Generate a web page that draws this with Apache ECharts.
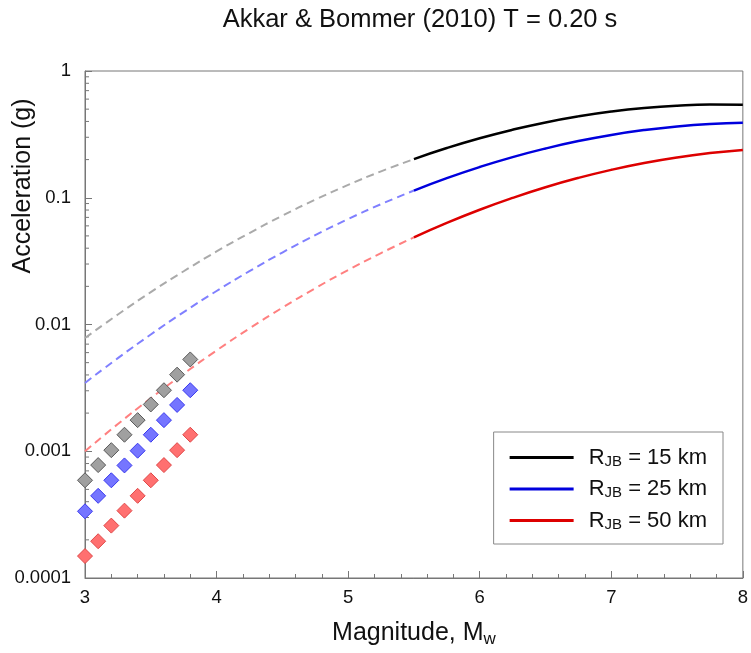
<!DOCTYPE html>
<html>
<head>
<meta charset="utf-8">
<script src="https://cdn.jsdelivr.net/npm/echarts@6/dist/echarts.min.js"></script>
<style>html,body{margin:0;padding:0;background:#fff}#c{width:751px;height:653px}</style>
</head>
<body>
<div id="c"></div>
<script>
// Magnitudes
var mDashed = [3.0, 3.25, 3.5, 3.75, 4.0, 4.25, 4.5, 4.75, 5.0, 5.25, 5.5];
var mSolid = [5.5, 5.75, 6.0, 6.25, 6.5, 6.75, 7.0, 7.25, 7.5, 7.75, 8.0];
var mPoints = [3.0, 3.1, 3.2, 3.3, 3.4, 3.5, 3.6, 3.7, 3.8];

// R_JB = 15 km
var r15Dashed = [0.00782, 0.0120, 0.0180, 0.0263, 0.0377, 0.0527, 0.0722, 0.0966, 0.1263, 0.1615, 0.2018];
var r15Solid = [0.2018, 0.2466, 0.2946, 0.344, 0.393, 0.4386, 0.4787, 0.5108, 0.5327, 0.5433, 0.542];
var r15Points = [0.00059, 0.000778, 0.00102, 0.00135, 0.00176, 0.00234, 0.00303, 0.00402, 0.0053];

// R_JB = 25 km
var r25Dashed = [0.00346, 0.00543, 0.00834, 0.01253, 0.01838, 0.02636, 0.03697, 0.0507, 0.0679, 0.0890, 0.1140];
var r25Solid = [0.1140, 0.1428, 0.1748, 0.2092, 0.2446, 0.2799, 0.3130, 0.3421, 0.3656, 0.3819, 0.390];
var r25Points = [0.000336, 0.000445, 0.00059, 0.000773, 0.00101, 0.00135, 0.00176, 0.00232, 0.00303];

// R_JB = 50 km
var r50Dashed = [0.00100, 0.00164, 0.00262, 0.00409, 0.00624, 0.00931, 0.01357, 0.01933, 0.0269, 0.0366, 0.0487];
var r50Solid = [0.0487, 0.0633, 0.0804, 0.0997, 0.1210, 0.1434, 0.1661, 0.1881, 0.2081, 0.2250, 0.2382];
var r50Points = [0.000149, 0.000195, 0.000259, 0.00034, 0.000445, 0.00059, 0.000778, 0.00102, 0.00135];

var legendNames = ['15', '25', '50'];
var yMinorTicks = [];
[0.0001, 0.001, 0.01, 0.1].forEach(function (d) {
  for (var k = 2; k <= 9; k++) yMinorTicks.push(+(k * d).toPrecision(2));
});

function pairs(xs, ys) { return xs.map(function (x, i) { return [x, ys[i]]; }); }

var FONT = '"Liberation Sans", Arial, sans-serif';
var chart = echarts.init(document.getElementById('c'), null, { renderer: 'canvas' });

function dashed(data, color) {
  return { type: 'line', data: data, smooth: true, symbol: 'none', silent: true,
    lineStyle: { color: color, width: 2, type: [8, 5] }, z: 2 };
}
function solid(name, data, color) {
  return { name: name, type: 'line', data: data, smooth: true, symbol: 'none', showSymbol: false,
    itemStyle: { color: color },
    lineStyle: { color: color, width: 2.5 }, z: 3 };
}
function pts(data, fill, border) {
  return { type: 'scatter', data: data, symbol: 'diamond', symbolSize: 15,
    itemStyle: { color: fill, borderColor: border, borderWidth: 1, opacity: 1 }, z: 4 };
}

var option = {
  animation: false,
  backgroundColor: '#fff',
  textStyle: { fontFamily: FONT },
  title: {
    text: 'Akkar & Bommer (2010) T = 0.20 s',
    left: 415, top: 2, textAlign: 'center',
    textStyle: { fontFamily: FONT, fontSize: 25.5, fontWeight: 'normal', color: '#111' }
  },
  grid: { left: 85, right: 2, top: 71, bottom: 70, show: true, borderColor: '#777', borderWidth: 1, containLabel: false },
  legend: {
    data: legendNames.map(function (r) { return { name: 'R' + r, icon: 'rect' }; }),
    orient: 'vertical', right: 28, top: 432,
    borderColor: '#888', borderWidth: 1, padding: [14, 16, 12, 16],
    itemWidth: 64, itemHeight: 3, itemGap: 8.5,
    backgroundColor: '#fff',
    formatter: function (n) { return '{p|R}{b|JB}{a| = ' + n.slice(1) + ' km}'; },
    textStyle: {
      rich: {
        p: { fontFamily: FONT, fontSize: 22, lineHeight: 22, color: '#111', padding: [0, 0, 0, 10] },
        a: { fontFamily: FONT, fontSize: 22, lineHeight: 22, color: '#111' },
        b: { fontFamily: FONT, fontSize: 15, lineHeight: 14, color: '#111', padding: [8, 0, 0, 0] }
      }
    }
  },
  xAxis: {
    type: 'value', min: 3, max: 8, interval: 1,
    name: '{a|Magnitude, M}{b|w}', nameLocation: 'middle', nameGap: 40,
    nameTextStyle: { rich: { a: { fontFamily: FONT, fontSize: 25, color: '#111' }, b: { fontFamily: FONT, fontSize: 17, color: '#111', padding: [13, 0, 0, 0] } } },
    axisLine: { lineStyle: { color: '#777', width: 1 } },
    axisTick: { inside: true, length: 7, lineStyle: { color: '#777' } },
    minorTick: { show: true, splitNumber: 5, length: 4, lineStyle: { color: '#777' } },
    axisLabel: { fontFamily: FONT, fontSize: 18.5, color: '#111', margin: 10 },
    splitLine: { show: false }
  },
  yAxis: {
    type: 'log', logBase: 10, min: 0.0001, max: 1,
    axisLine: { show: true, lineStyle: { color: '#777', width: 1 } },
    axisTick: { show: true, inside: true, length: 7, lineStyle: { color: '#777' } },
    axisLabel: { fontFamily: FONT, fontSize: 18.5, color: '#111', margin: 14,
      formatter: function (v) { return String(Number(v.toPrecision(1))); } },
    splitLine: { show: false }
  },
  graphic: [{
    type: 'text', x: 23, y: 186, rotation: Math.PI / 2,
    style: { text: 'Acceleration (g)', fontFamily: FONT, fontSize: 25, fill: '#111', align: 'center', verticalAlign: 'middle' }
  }],
  series: [
    {
      type: 'custom', silent: true, z: 1,
      data: yMinorTicks.map(function (v) { return [3, v]; }),
      renderItem: function (params, api) {
        var p = api.coord([api.value(0), api.value(1)]);
        return { type: 'line', shape: { x1: p[0], y1: p[1], x2: p[0] + 4, y2: p[1] }, style: { stroke: '#777', lineWidth: 1 } };
      }
    },
    dashed(pairs(mDashed, r15Dashed), '#aaaaaa'),
    dashed(pairs(mDashed, r25Dashed), '#8080ff'),
    dashed(pairs(mDashed, r50Dashed), '#ff8080'),
    solid('R15', pairs(mSolid, r15Solid), '#000000'),
    solid('R25', pairs(mSolid, r25Solid), '#0000dd'),
    solid('R50', pairs(mSolid, r50Solid), '#dd0000'),
    pts(pairs(mPoints, r15Points), '#a0a0a0', '#5a5a5a'),
    pts(pairs(mPoints, r25Points), '#7575ff', '#3a3aee'),
    pts(pairs(mPoints, r50Points), '#ff7070', '#e04848')
  ]
};
chart.setOption(option);
</script>
</body>
</html>
